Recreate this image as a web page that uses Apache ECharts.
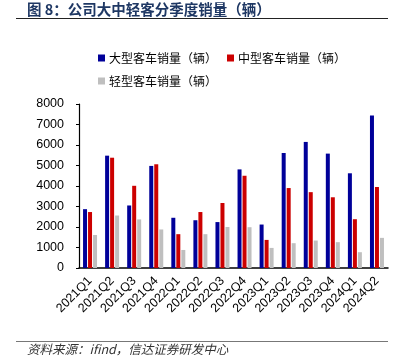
<!DOCTYPE html>
<html><head><meta charset="utf-8">
<script src="https://cdn.jsdelivr.net/npm/echarts@6/dist/echarts.min.js"></script>
<style>html,body{margin:0;padding:0;background:#fff}#c{width:418px;height:364px}</style>
</head><body><div id="c"></div>
<script>
const categories = ['2021Q1','2021Q2','2021Q3','2021Q4','2022Q1','2022Q2','2022Q3','2022Q4','2023Q1','2023Q2','2023Q3','2023Q4','2024Q1','2024Q2'];
const largeBus = [2870,5480,3050,4980,2450,2330,2240,4810,2120,5610,6150,5580,4620,7440];
const mediumBus = [2730,5380,4010,5060,1650,2730,3170,4500,1370,3900,3700,3450,2380,3950];
const lightBus = [1610,2560,2370,1880,880,1650,2000,1990,980,1210,1340,1260,770,1470];
const seriesNames = ['大型客车销量（辆）','中型客车销量（辆）','轻型客车销量（辆）'];
const yTicks = {min:0, max:8000, interval:1000};

const chart = echarts.init(document.getElementById('c'));
const cjk = '"Noto Sans CJK SC", "Noto Sans", sans-serif';
const latin = '"Liberation Sans", Arial, sans-serif';
chart.setOption({
  animation:false,
  backgroundColor:'#fff',
  grid:{left:79, right:30, top:104, bottom:96, containLabel:false},
  legend:[
    {data:[seriesNames[0],seriesNames[1]], left:93, top:47, itemWidth:7, itemHeight:7, itemGap:10,
     icon:'rect', textStyle:{fontFamily:cjk, fontSize:12, color:'#000', padding:[0,0,0,-1]}},
    {data:[seriesNames[2]], left:93, top:70, itemWidth:7, itemHeight:7,
     icon:'rect', textStyle:{fontFamily:cjk, fontSize:12, color:'#000', padding:[0,0,0,-1]}}
  ],
  xAxis:{type:'category', data:categories,
    axisLine:{lineStyle:{color:'#000', width:1.5}},
    axisTick:{inside:true, length:3, lineStyle:{color:'#000'}},
    axisLabel:{rotate:45, fontFamily:latin, fontSize:12.5, color:'#000', margin:11, interval:0}},
  yAxis:{type:'value', min:yTicks.min, max:yTicks.max, interval:yTicks.interval,
    axisLine:{show:true, lineStyle:{color:'#000', width:1.2}},
    axisTick:{show:true, length:3, lineStyle:{color:'#000'}},
    splitLine:{show:false},
    axisLabel:{fontFamily:latin, fontSize:12.5, color:'#000', margin:15, formatter:function(v){return String(v);}}},
  series:[
    {name:seriesNames[0], type:'bar', data:largeBus, barWidth:4, barGap:'25%', itemStyle:{color:'#000099'}},
    {name:seriesNames[1], type:'bar', data:mediumBus, barWidth:4, barGap:'25%', itemStyle:{color:'#CC0000'}},
    {name:seriesNames[2], type:'bar', data:lightBus, barWidth:4, barGap:'25%', itemStyle:{color:'#BFBFBF'}}
  ],
  graphic:[
    {type:'text', left:27, top:2, style:{text:'图 8：公司大中轻客分季度销量（辆）', font:'bold 14.5px '+cjk, fill:'#1F3864'}},
    {type:'line', shape:{x1:16, y1:18.5, x2:388, y2:18.5}, style:{stroke:'#222', lineWidth:1}},
    {type:'line', shape:{x1:16, y1:341.5, x2:388, y2:341.5}, style:{stroke:'#777', lineWidth:1}},
    {type:'text', left:27, top:343, style:{text:'资料来源：ifind，信达证券研发中心', font:'italic 12.5px '+cjk, fill:'#333'}}
  ]
});
</script></body></html>
